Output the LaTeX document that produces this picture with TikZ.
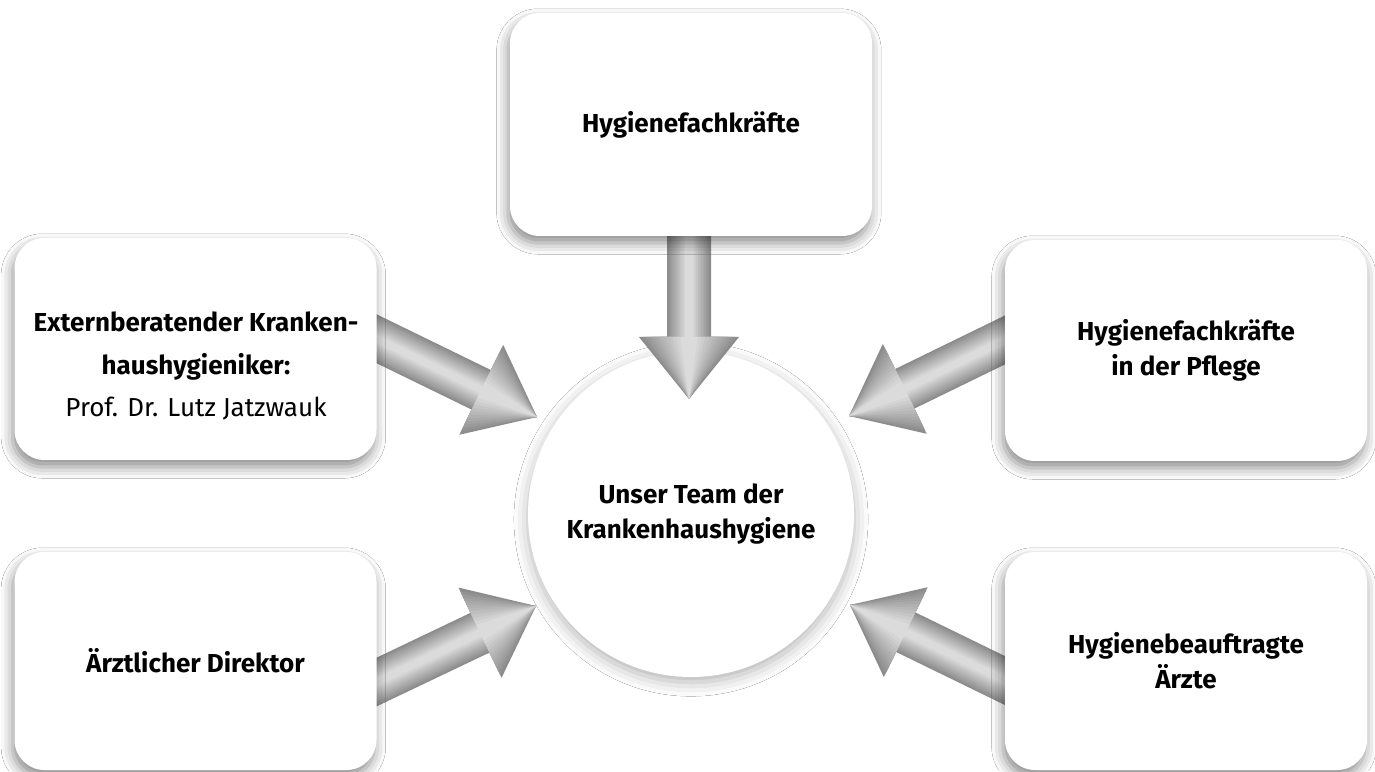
\documentclass[tikz,border=0pt]{standalone}
\usepackage{fontspec}
\setmainfont{Fira Sans}
\usetikzlibrary{shadows.blur,positioning}

\tikzset{
  softshadow/.style={blur shadow={shadow xshift=-0.6pt, shadow yshift=-2pt, shadow blur radius=3.2pt, shadow opacity=45}},
  teambox/.style={fill=white, rounded corners=0.3cm, inner sep=0pt, minimum width=3.62cm, minimum height=2.2cm,
    align=center, font=\fontsize{7.4}{10}\selectfont\bfseries, softshadow},
}

\begin{document}
\begin{tikzpicture}
\useasboundingbox[fill=white] (0,0) rectangle (13.75,7.71);

% centre
\node[circle, fill=white, inner sep=0pt, minimum size=3.26cm, align=center,
      font=\fontsize{7.4}{10}\selectfont\bfseries,
      blur shadow={shadow xshift=0pt, shadow yshift=-1.5pt, shadow blur radius=4pt, shadow opacity=30}]
      (team) at (6.91,2.57) {Unser Team der\\Krankenhaushygiene};

% arrows: tip / angle, stepped grey for the metal look
\foreach \tx/\ty/\ang in {6.89/3.72/-90, 5.37/3.54/-26, 5.36/1.65/25.5, 8.49/3.55/206, 8.50/1.66/154}{
  \begin{scope}[shift={(\tx,\ty)}, rotate=\ang]
    \foreach \k in {0,...,11}{
      \pgfmathsetmacro\sc{1-\k*0.075}
      \pgfmathsetmacro\gr{45-\k*2.8}
      \fill[black!\gr, yscale=\sc] (-1.9,-0.22) -- (-0.62,-0.22) -- (-0.62,-0.5) -- (0,0)
        -- (-0.62,0.5) -- (-0.62,0.22) -- (-1.9,0.22) -- cycle;
    }
  \end{scope}
}

% boxes
\node[teambox, minimum height=2.23cm] (hyg) at (6.91,6.465) {Hygienefachkräfte};
\node[teambox, minimum height=2.22cm] (ext) at (1.955,4.22) {};
\node[align=center, font=\fontsize{7.4}{12.2}\selectfont] (extlabel) at (1.96,4.05)
     {\textbf{Externberatender Kranken-}\\\textbf{haushygieniker:}\\Prof. Dr. Lutz Jatzwauk};
\node[teambox, minimum height=2.18cm] (dir) at (1.955,1.10) {Ärztlicher Direktor};
\node[teambox, minimum height=2.21cm] (pfl) at (11.86,4.205) {Hygienefachkräfte\\in der Pflege};
\node[teambox, minimum height=2.18cm] (arzt) at (11.86,1.10) {Hygienebeauftragte\\Ärzte};
\end{tikzpicture}
\end{document}
